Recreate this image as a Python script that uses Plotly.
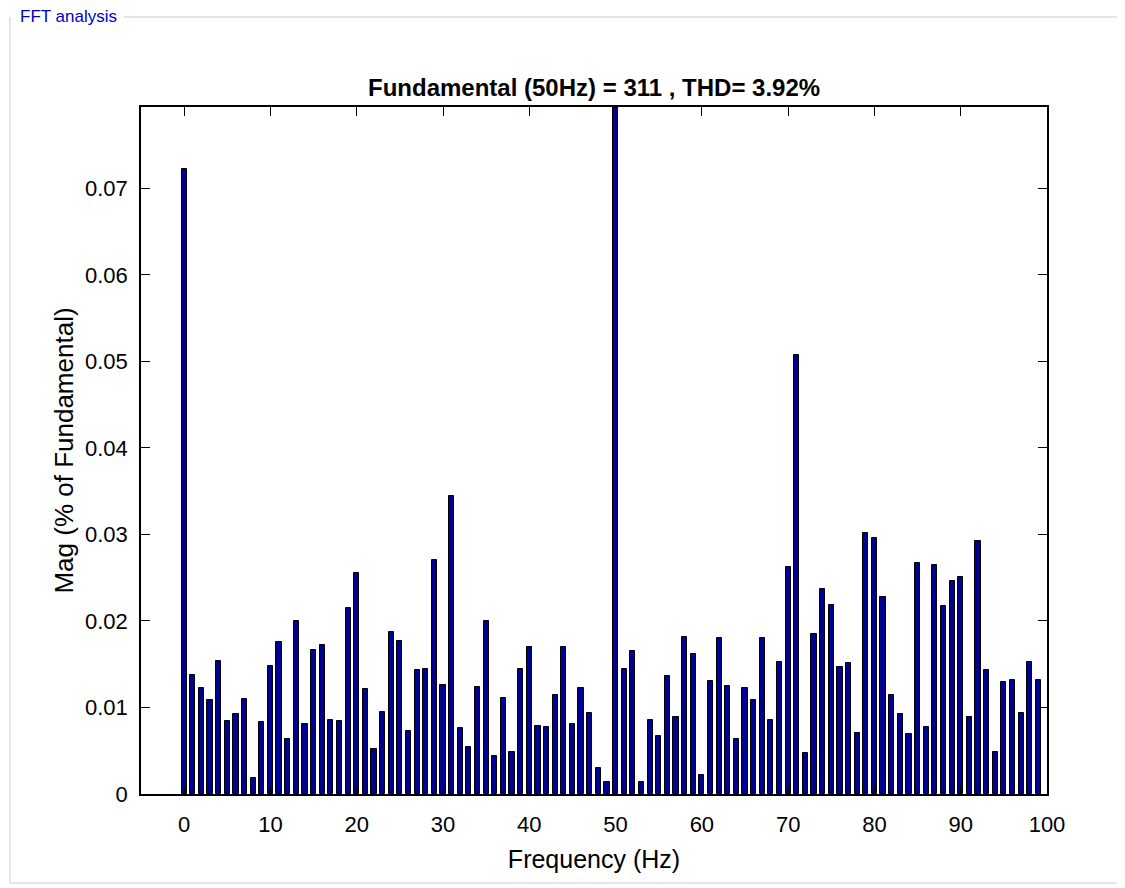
import plotly.graph_objects as go

# harmonic order (Hz) and magnitude (% of fundamental)
freq = list(range(0, 100))
mag = [
    0.0722, 0.0137, 0.0122, 0.0109, 0.0154, 0.0084, 0.0093, 0.0110, 0.0019, 0.0083,
    0.0148, 0.0176, 0.0064, 0.0200, 0.0081, 0.0166, 0.0172, 0.0085, 0.0084, 0.0215,
    0.0256, 0.0121, 0.0052, 0.0095, 0.0187, 0.0177, 0.0073, 0.0143, 0.0144, 0.0271,
    0.0126, 0.0344, 0.0076, 0.0054, 0.0124, 0.0200, 0.0044, 0.0111, 0.0049, 0.0144,
    0.0170, 0.0079, 0.0077, 0.0114, 0.0170, 0.0081, 0.0122, 0.0094, 0.0030, 0.0014,
    100.0, 0.0144, 0.0165, 0.0014, 0.0086, 0.0067, 0.0136, 0.0089, 0.0182, 0.0162,
    0.0022, 0.0131, 0.0180, 0.0125, 0.0063, 0.0123, 0.0109, 0.0180, 0.0086, 0.0153,
    0.0262, 0.0507, 0.0047, 0.0185, 0.0237, 0.0219, 0.0147, 0.0151, 0.0071, 0.0302,
    0.0296, 0.0228, 0.0114, 0.0092, 0.0069, 0.0267, 0.0077, 0.0265, 0.0217, 0.0246,
    0.0251, 0.0089, 0.0292, 0.0143, 0.0049, 0.0130, 0.0132, 0.0094, 0.0152, 0.0132,
]
xticks = list(range(0, 101, 10))
yticks = [0, 0.01, 0.02, 0.03, 0.04, 0.05, 0.06, 0.07]

W, H = 1125, 888
OFF = 8  # page body margin shifts the figure
L, R, T, B = 141 - OFF, 78 + OFF, 107 - OFF, 94 + OFF


def px(x, y):
    # screen pixel -> paper coords
    x, y = x - OFF, y - OFF
    return (x - L) / (W - L - R), (H - B - y) / (H - T - B)


fig = go.Figure()
fig.add_trace(go.Bar(
    x=freq, y=mag, width=0.6,
    marker=dict(color='rgb(0,0,145)', line=dict(color='black', width=1)),
))

# group box frame round the panel
shapes = []
for (x0, y0, x1, y1) in [(10, 17, 10, 883), (10, 883, 1119, 883),
                         (1119, 17, 1119, 883), (124, 17, 1119, 17)]:
    a, b = px(x0, y0)
    c, d = px(x1, y1)
    shapes.append(dict(type='line', xref='paper', yref='paper', x0=a, y0=b, x1=c, y1=d,
                       line=dict(color='rgb(220,220,220)', width=1.5)))

lx, ly = px(18, 17)
tx, ty = px(594, 88)

fig.update_layout(
    width=W, height=H,
    margin=dict(l=L, r=R, t=T, b=B),
    plot_bgcolor='white',
    paper_bgcolor='white',
    showlegend=False,
    shapes=shapes,
    font=dict(family='Liberation Sans, Arial, sans-serif', size=22, color='black'),
    annotations=[
        dict(text='FFT analysis', xref='paper', yref='paper', x=lx, y=ly,
             xanchor='left', yanchor='middle', showarrow=False, bgcolor='white',
             font=dict(size=17, color='rgb(0,0,200)')),
        dict(text='<b>Fundamental (50Hz) = 311 , THD= 3.92%</b>', xref='paper', yref='paper',
             x=tx, y=ty, xanchor='center', yanchor='middle', showarrow=False,
             font=dict(size=24, color='black')),
    ],
    bargap=0,
    xaxis=dict(
        range=[-5, 100], tickvals=xticks, ticks='inside', ticklen=9, tickcolor='black',
        showline=True, linecolor='black', linewidth=1.5, mirror='ticks', showgrid=False,
        zeroline=False, ticklabelstandoff=10,
        title=dict(text='Frequency (Hz)', standoff=14, font=dict(size=25)),
    ),
    yaxis=dict(
        range=[0, 0.0794], tickvals=yticks, ticks='inside', ticklen=9, tickcolor='black',
        showline=True, linecolor='black', linewidth=1.5, mirror='ticks', showgrid=False,
        zeroline=False, ticklabelstandoff=7,
        title=dict(text='Mag (% of Fundamental)', standoff=4, font=dict(size=26)),
    ),
)

fig.write_html("out.html")
